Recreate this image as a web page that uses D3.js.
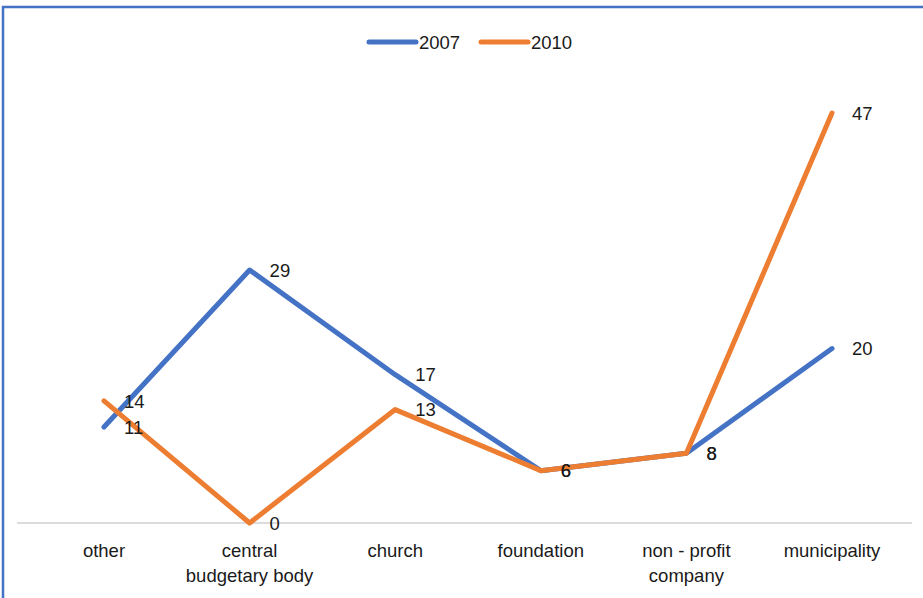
<!DOCTYPE html>
<html>
<head>
<meta charset="utf-8">
<script src="https://cdn.jsdelivr.net/npm/d3@7"></script>
<style>
  body { margin: 0; background: #fff; }
  text { font-family: "Liberation Sans", "DejaVu Sans", sans-serif; fill: #1a1a1a; }
</style>
</head>
<body>
<svg id="chart" width="923" height="598"></svg>
<script>
var categories = ["other", "central\nbudgetary body", "church", "foundation", "non - profit\ncompany", "municipality"];
var years = ["2007", "2010"];
var values_2007 = [11, 29, 17, 6, 8, 20];
var values_2010 = [14, 0, 13, 6, 8, 47];
var colors = ["#4472C4", "#ED7D31"];

var width = 923, height = 598;
var fs = 18.5;
var svg = d3.select("#chart");

// chart border
svg.append("rect")
  .attr("x", 3).attr("y", 7)
  .attr("width", width + 10).attr("height", height + 10)
  .attr("fill", "none").attr("stroke", "#4472C4").attr("stroke-width", 2.5);

var x = d3.scalePoint().domain(categories).range([104, 832]);
var y = d3.scaleLinear().domain([0, 47]).range([523, 113]);

// axis baseline
svg.append("line")
  .attr("x1", 17).attr("x2", 912)
  .attr("y1", y(0)).attr("y2", y(0))
  .attr("stroke", "#d0d0d0").attr("stroke-width", 1.5);

// category labels
var cat = svg.selectAll(".cat").data(categories).enter()
  .append("text")
  .attr("class", "cat")
  .attr("text-anchor", "middle")
  .attr("font-size", fs);
cat.selectAll("tspan").data(function(d){ return d.split("\n"); }).enter()
  .append("tspan")
  .attr("x", function(d){ return x(this.parentNode.__data__); })
  .attr("y", function(d, i){ return 557 + i * 25; })
  .text(function(d){ return d; });

var series = [
  {name: years[0], values: values_2007, color: colors[0]},
  {name: years[1], values: values_2010, color: colors[1]}
];

var line = d3.line()
  .x(function(d, i){ return x(categories[i]); })
  .y(function(d){ return y(d); });

series.forEach(function(s) {
  svg.append("path")
    .datum(s.values)
    .attr("d", line)
    .attr("fill", "none")
    .attr("stroke", s.color)
    .attr("stroke-width", 5)
    .attr("stroke-linecap", "round")
    .attr("stroke-linejoin", "round");
});

series.forEach(function(s) {
  svg.selectAll(".lbl-" + s.name).data(s.values).enter()
    .append("text")
    .attr("x", function(d, i){ return x(categories[i]) + 20; })
    .attr("y", function(d){ return y(d); })
    .attr("dy", "0.36em")
    .attr("font-size", fs)
    .text(function(d){ return d; });
});

// legend
var legend = svg.append("g");
series.forEach(function(s, i) {
  var lx = 369 + i * 112;
  legend.append("line")
    .attr("x1", lx).attr("x2", lx + 47)
    .attr("y1", 42).attr("y2", 42)
    .attr("stroke", s.color).attr("stroke-width", 5)
    .attr("stroke-linecap", "round");
  legend.append("text")
    .attr("x", lx + 50).attr("y", 42)
    .attr("dy", "0.36em")
    .attr("font-size", fs)
    .text(s.name);
});
</script>
</body>
</html>
